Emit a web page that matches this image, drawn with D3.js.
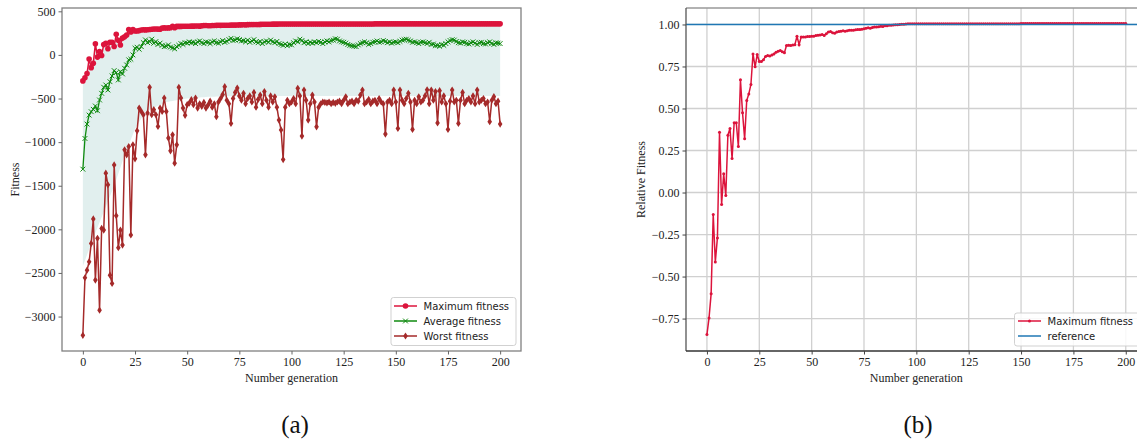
<!DOCTYPE html>
<html><head><meta charset="utf-8">
<script src="https://cdn.jsdelivr.net/npm/d3@7"></script>
<style>body{margin:0;background:#fff;overflow:hidden}</style>
</head><body>
<svg id="c" width="1137" height="442"></svg>
<script>
const maxFitness=[
-298,-263,-213,-46,-146,-95,127,-25,39,-6,
120,134,71,146,146,97,237,167,113,193,
207,227,291,264,290,275,275,279,286,288,
287,289,291,295,297,298,296,294,309,310,
309,310,311,328,311,327,327,327,328,328,
328,328,330,330,331,332,330,334,337,338,
335,335,337,338,339,340,339,340,341,341,
341,342,342,342,343,344,345,346,345,347,
348,348,348,349,349,350,351,351,352,352,
352,353,353,353,354,354,354,354,355,355,
355,355,355,355,355,355,355,355,355,355,
355,355,355,355,355,355,355,355,355,355,
355,355,355,355,355,355,355,355,355,355,
355,355,355,355,355,355,355,355,355,355,
356,356,356,356,356,356,356,356,356,356,
356,356,356,356,356,356,356,356,356,356,
356,356,356,356,356,356,356,356,356,356,
356,356,356,356,356,356,356,356,356,356,
356,356,356,356,356,356,356,356,356,356,
356,356,356,356,356,356,356,356,356,356,
356];
const avgFitness=[
-1310,-958,-793,-690,-651,-624,-586,-640,-517,-440,
-371,-345,-402,-307,-241,-180,-203,-287,-192,-218,
-153,-115,-57,-49,0,77,88,65,95,141,
172,141,153,180,134,153,120,135,110,95,
100,115,90,80,70,95,110,130,120,140,
135,150,140,145,130,150,160,140,130,150,
145,130,150,160,140,135,150,165,145,155,
175,190,165,170,185,175,160,165,150,170,
145,160,175,150,140,155,130,150,160,145,
170,150,140,155,130,120,110,125,105,120,
115,140,160,150,180,165,140,150,130,145,
135,150,140,155,145,130,150,160,150,165,
170,185,180,160,150,145,135,120,110,105,
100,95,115,130,140,150,140,120,130,145,
150,160,145,150,165,155,140,150,135,145,
150,140,155,170,175,180,170,160,145,150,
140,130,145,150,140,130,145,120,125,105,
110,100,120,110,130,150,165,175,170,155,
140,135,150,145,130,125,140,150,135,120,
140,145,130,125,140,150,130,120,140,135,
130];
const worstFitness=[
-3215,-2555,-2468,-2372,-2161,-1881,-2582,-2103,-2927,-1989,
-2008,-1356,-1490,-2525,-2621,-1261,-1843,-2211,-2008,-2180,
-1088,-1146,-1050,-2065,-1031,-1192,-870,-609,-648,-686,
-1146,-667,-372,-686,-628,-686,-820,-609,-648,-494,
-648,-954,-1100,-916,-1241,-1031,-372,-494,-609,-693,
-571,-552,-513,-571,-494,-609,-560,-590,-545,-610,
-575,-530,-600,-560,-709,-540,-500,-455,-364,-520,
-560,-785,-500,-430,-380,-470,-520,-440,-560,-500,
-470,-540,-430,-600,-510,-460,-560,-420,-520,-600,
-470,-540,-480,-600,-747,-860,-1200,-600,-520,-560,
-540,-500,-560,-383,-470,-931,-402,-520,-747,-560,
-460,-540,-824,-600,-560,-540,-545,-550,-540,-560,
-545,-555,-540,-530,-560,-520,-480,-560,-540,-530,
-560,-520,-530,-460,-402,-560,-540,-510,-560,-530,
-520,-560,-500,-540,-560,-908,-540,-520,-560,-402,
-540,-843,-402,-520,-560,-500,-440,-540,-854,-520,
-560,-480,-540,-520,-470,-400,-560,-402,-520,-420,
-780,-410,-540,-470,-560,-854,-530,-402,-540,-520,
-785,-520,-430,-560,-520,-500,-540,-470,-560,-402,
-540,-520,-500,-560,-540,-766,-520,-479,-560,-530,
-793];
// lower edge of the shaded band
const bandLowGen=[0,5,10,15,20,25,30,40,50,60,80,100,120,140,160,180,200];
const bandLowVal=[-2420,-2100,-1800,-1500,-1150,-850,-650,-540,-500,-480,-470,-470,-470,-470,-470,-470,-470];
const relFitness=[
-0.845,-0.746,-0.603,-0.131,-0.413,-0.270,0.359,-0.071,0.111,-0.018,
0.341,0.381,0.202,0.415,0.415,0.274,0.671,0.474,0.320,0.548,
0.587,0.643,0.825,0.748,0.821,0.780,0.780,0.790,0.810,0.815,
0.812,0.818,0.825,0.835,0.840,0.845,0.838,0.832,0.875,0.877,
0.875,0.878,0.880,0.930,0.880,0.925,0.925,0.926,0.928,0.928,
0.930,0.930,0.935,0.936,0.938,0.940,0.935,0.945,0.955,0.958,
0.950,0.948,0.955,0.958,0.960,0.962,0.960,0.963,0.965,0.965,
0.966,0.968,0.970,0.970,0.972,0.975,0.978,0.980,0.978,0.982,
0.985,0.985,0.987,0.990,0.988,0.992,0.993,0.995,0.996,0.997,
0.998,0.999,1.000,1.001,1.002,1.003,1.004,1.004,1.005,1.005,
1.005,1.005,1.005,1.005,1.005,1.005,1.005,1.005,1.005,1.005,
1.005,1.005,1.005,1.005,1.005,1.005,1.005,1.005,1.005,1.005,
1.005,1.005,1.005,1.005,1.005,1.005,1.005,1.005,1.005,1.005,
1.005,1.005,1.005,1.005,1.005,1.005,1.005,1.005,1.005,1.005,
1.005,1.005,1.005,1.005,1.005,1.005,1.005,1.005,1.005,1.005,
1.006,1.006,1.006,1.006,1.006,1.006,1.006,1.006,1.006,1.006,
1.006,1.006,1.006,1.006,1.006,1.006,1.006,1.006,1.006,1.006,
1.006,1.006,1.006,1.006,1.006,1.006,1.006,1.006,1.006,1.006,
1.006,1.006,1.006,1.006,1.006,1.006,1.006,1.006,1.006,1.006,
1.006,1.006,1.006,1.006,1.006,1.006,1.006,1.006,1.006,1.006,
1.006];
const referenceValue=1.0;
const xTicks=[0,25,50,75,100,125,150,175,200];
const yTicksA=[500,0,-500,-1000,-1500,-2000,-2500,-3000];
const yTicksB=[1.00,0.75,0.50,0.25,0.00,-0.25,-0.50,-0.75];
const legendA=["Maximum fitness","Average fitness","Worst fitness"];
const legendB=["Maximum fitness","reference"];
const panelLabels=["(a)","(b)"];

const C={max:"#dc143c",avg:"#0f8a0f",worst:"#a52a2a",fill:"#e1efee",ref:"#1f77b4"};
const serif="'Liberation Serif','Times New Roman',serif";
const sans="'DejaVu Sans',sans-serif";
const gens=d3.range(maxFitness.length);
const svg=d3.select("#c");
const fmtMinus=s=>String(s).replace("-","\u2212");

// ---------- panel (a) ----------
const A={l:62,r:521,t:8,b:351};
const xA=d3.scaleLinear().domain([-10,210]).range([A.l,A.r]);
const yA=d3.scaleLinear().domain([-3395,538]).range([A.b,A.t]);
const gA=svg.append("g");
svg.append("clipPath").attr("id","clipA").append("rect").attr("x",A.l).attr("y",A.t).attr("width",A.r-A.l).attr("height",A.b-A.t);
const plotA=gA.append("g").attr("clip-path","url(#clipA)");
const lowInterp=g=>{for(let i=1;i<bandLowGen.length;i++){if(g<=bandLowGen[i]){const t=(g-bandLowGen[i-1])/(bandLowGen[i]-bandLowGen[i-1]);return bandLowVal[i-1]+t*(bandLowVal[i]-bandLowVal[i-1]);}}return bandLowVal[bandLowVal.length-1];};
plotA.append("path").datum(gens).attr("fill",C.fill)
  .attr("d",d3.area().x(g=>xA(g)).y0(g=>yA(lowInterp(g))).y1(g=>yA(maxFitness[g])));
const lineA=arr=>d3.line().x((d,i)=>xA(i)).y(d=>yA(d))(arr);
plotA.append("path").attr("d",lineA(maxFitness)).attr("fill","none").attr("stroke",C.max).attr("stroke-width",1.5);
plotA.selectAll(".mmax").data(maxFitness).join("circle").attr("cx",(d,i)=>xA(i)).attr("cy",d=>yA(d)).attr("r",2.8).attr("fill",C.max);
plotA.append("path").attr("d",lineA(avgFitness)).attr("fill","none").attr("stroke",C.avg).attr("stroke-width",1.3);
const crossPath=(x,y,s)=>`M${x-s},${y-s}L${x+s},${y+s}M${x-s},${y+s}L${x+s},${y-s}`;
plotA.append("path").attr("d",avgFitness.map((d,i)=>crossPath(xA(i),yA(d),2.4)).join("")).attr("stroke",C.avg).attr("stroke-width",1).attr("fill","none");
plotA.append("path").attr("d",lineA(worstFitness)).attr("fill","none").attr("stroke",C.worst).attr("stroke-width",1.5);
const diamond=(x,y,w,h)=>`M${x},${y-h}L${x+w},${y}L${x},${y+h}L${x-w},${y}Z`;
plotA.append("path").attr("d",worstFitness.map((d,i)=>diamond(xA(i),yA(d),2.3,3.6)).join("")).attr("fill",C.worst);

// frame & ticks (a)
gA.append("rect").attr("x",A.l).attr("y",A.t).attr("width",A.r-A.l).attr("height",A.b-A.t).attr("fill","none").attr("stroke","#808080").attr("stroke-width",1.3);
const axA_x=gA.append("g").attr("transform",`translate(0,${A.b})`).call(d3.axisBottom(xA).tickValues(xTicks).tickSize(3.5).tickPadding(3).tickFormat(d=>d));
const axA_y=gA.append("g").attr("transform",`translate(${A.l},0)`).call(d3.axisLeft(yA).tickValues(yTicksA).tickSize(3.5).tickPadding(3).tickFormat(fmtMinus));
[axA_x,axA_y].forEach(a=>{a.attr("font-family",serif).attr("font-size",12);a.select(".domain").remove();a.selectAll("line").attr("stroke","#666");a.selectAll("text").attr("font-family",serif).attr("font-size",12).attr("fill","#222");});
gA.append("text").attr("x",(A.l+A.r)/2).attr("y",382).attr("text-anchor","middle").attr("font-family",serif).attr("font-size",12).attr("fill","#222").text("Number generation");
gA.append("text").attr("transform",`translate(19,${(A.t+A.b)/2}) rotate(-90)`).attr("text-anchor","middle").attr("font-family",serif).attr("font-size",12).attr("fill","#222").text("Fitness");

// legend (a)
const LA=gA.append("g");
LA.append("rect").attr("x",391).attr("y",297.5).attr("width",125).attr("height",48).attr("rx",2.5).attr("fill","#fff").attr("fill-opacity",0.85).attr("stroke","#cccccc").attr("stroke-width",0.9);
const legColsA=[C.max,C.avg,C.worst];
legendA.forEach((t,i)=>{
  const y=306+i*15;
  LA.append("line").attr("x1",394).attr("x2",417).attr("y1",y).attr("y2",y).attr("stroke",legColsA[i]).attr("stroke-width",1.5);
  if(i===0)LA.append("circle").attr("cx",405.5).attr("cy",y).attr("r",2.8).attr("fill",C.max);
  if(i===1)LA.append("path").attr("d",crossPath(405.5,y,2.4)).attr("stroke",C.avg).attr("stroke-width",1);
  if(i===2)LA.append("path").attr("d",diamond(405.5,y,2.3,3.6)).attr("fill",C.worst);
  LA.append("text").attr("x",423.5).attr("y",y).attr("dy","0.35em").attr("font-family",sans).attr("font-size",10).attr("fill","#222").text(t);
});

// ---------- panel (b) ----------
const B={l:686,r:1146.7,t:8,b:351};
const xB=d3.scaleLinear().domain([-10,210]).range([B.l,B.r]);
const yB=d3.scaleLinear().domain([-0.943,1.098]).range([B.b,B.t]);
const gB=svg.append("g");
svg.append("clipPath").attr("id","clipB").append("rect").attr("x",B.l).attr("y",B.t).attr("width",B.r-B.l).attr("height",B.b-B.t);
const grid=gB.append("g");
xTicks.forEach(v=>grid.append("line").attr("x1",xB(v)).attr("x2",xB(v)).attr("y1",B.t).attr("y2",B.b).attr("stroke","#d0d0d0").attr("stroke-width",1.3));
yTicksB.forEach(v=>grid.append("line").attr("x1",B.l).attr("x2",B.r).attr("y1",yB(v)).attr("y2",yB(v)).attr("stroke","#d0d0d0").attr("stroke-width",1.3));
const plotB=gB.append("g").attr("clip-path","url(#clipB)");
plotB.append("path").attr("d",d3.line().x((d,i)=>xB(i)).y(d=>yB(d))(relFitness)).attr("fill","none").attr("stroke",C.max).attr("stroke-width",1.5);
plotB.selectAll(".mrel").data(relFitness).join("circle").attr("cx",(d,i)=>xB(i)).attr("cy",d=>yB(d)).attr("r",1.5).attr("fill",C.max);
plotB.append("line").attr("x1",B.l).attr("x2",B.r).attr("y1",yB(referenceValue)).attr("y2",yB(referenceValue)).attr("stroke",C.ref).attr("stroke-width",1.5);
gB.append("line").attr("x1",B.l).attr("x2",B.r).attr("y1",B.t).attr("y2",B.t).attr("stroke","#999").attr("stroke-width",1.3);
gB.append("line").attr("x1",B.l).attr("x2",B.l).attr("y1",B.t).attr("y2",B.b).attr("stroke","#555").attr("stroke-width",1.3);
gB.append("line").attr("x1",B.l).attr("x2",B.r).attr("y1",B.b).attr("y2",B.b).attr("stroke","#333").attr("stroke-width",1.3);
const axB_x=gB.append("g").attr("transform",`translate(0,${B.b})`).call(d3.axisBottom(xB).tickValues(xTicks).tickSize(3.5).tickPadding(3).tickFormat(d=>d));
const axB_y=gB.append("g").attr("transform",`translate(${B.l},0)`).call(d3.axisLeft(yB).tickValues(yTicksB).tickSize(3.5).tickPadding(3).tickFormat(d=>fmtMinus(d3.format(".2f")(d))));
[axB_x,axB_y].forEach(a=>{a.attr("font-family",serif).attr("font-size",12);a.select(".domain").remove();a.selectAll("line").attr("stroke","#444");a.selectAll("text").attr("font-family",serif).attr("font-size",12).attr("fill","#222");});
gB.append("text").attr("x",(B.l+B.r)/2).attr("y",382).attr("text-anchor","middle").attr("font-family",serif).attr("font-size",12).attr("fill","#222").text("Number generation");
gB.append("text").attr("transform",`translate(645,${(B.t+B.b)/2}) rotate(-90)`).attr("text-anchor","middle").attr("font-family",serif).attr("font-size",12).attr("fill","#222").text("Relative Fitness");

// legend (b)
const LB=gB.append("g");
LB.append("rect").attr("x",1014.5).attr("y",313).attr("width",130).attr("height",33).attr("rx",2.5).attr("fill","#fff").attr("fill-opacity",0.85).attr("stroke","#cccccc").attr("stroke-width",0.9);
legendB.forEach((t,i)=>{
  const y=321+i*15;
  LB.append("line").attr("x1",1018).attr("x2",1041).attr("y1",y).attr("y2",y).attr("stroke",i?C.ref:C.max).attr("stroke-width",1.5);
  if(i===0)LB.append("circle").attr("cx",1029.5).attr("cy",y).attr("r",1.5).attr("fill",C.max);
  LB.append("text").attr("x",1047.5).attr("y",y).attr("dy","0.35em").attr("font-family",sans).attr("font-size",10).attr("fill","#222").text(t);
});

// panel labels
svg.append("text").attr("x",295).attr("y",433).attr("text-anchor","middle").attr("font-family",serif).attr("font-size",25).attr("fill","#111").text(panelLabels[0]);
svg.append("text").attr("x",918).attr("y",433).attr("text-anchor","middle").attr("font-family",serif).attr("font-size",25).attr("fill","#111").text(panelLabels[1]);
</script>
</body></html>
